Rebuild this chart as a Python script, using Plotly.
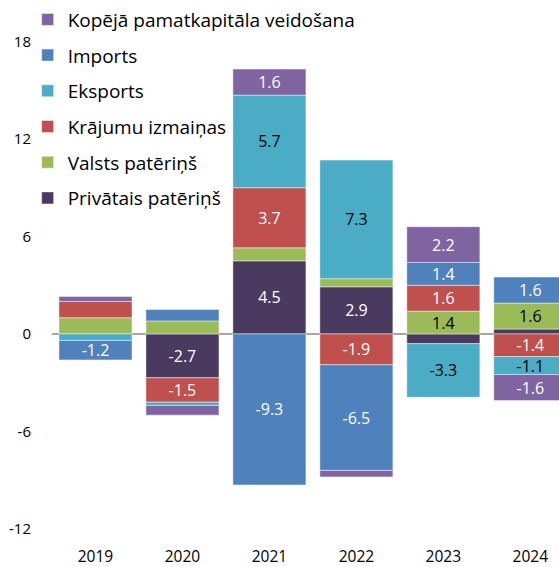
import plotly.graph_objects as go

years = ["2019", "2020", "2021", "2022", "2023", "2024"]

privatais = [0.0, -2.7, 4.5, 2.9, -0.6, 0.3]
valsts = [1.0, 0.8, 0.8, 0.5, 1.4, 1.6]
krajumu = [1.0, -1.5, 3.7, -1.9, 1.6, -1.4]
eksports = [-0.4, -0.2, 5.7, 7.3, -3.3, -1.1]
imports = [-1.2, 0.7, -9.3, -6.5, 1.4, 1.6]
kopeja = [0.3, -0.6, 1.6, -0.4, 2.2, -1.6]

series = [
    ("Privātais patēriņš", privatais, "#4B3A60", "white"),
    ("Valsts patēriņš", valsts, "#9BBB59", "black"),
    ("Krājumu izmaiņas", krajumu, "#C0504D", "white"),
    ("Eksports", eksports, "#4BACC6", "black"),
    ("Imports", imports, "#4F81BD", "white"),
    ("Kopējā pamatkapitāla veidošana", kopeja, "#8064A2", "white"),
]

FONT = "Open Sans"

fig = go.Figure()
n = len(series)
for i, (name, vals, color, tcolor) in enumerate(series):
    labels = [f"{v:.1f}" if abs(v) >= 1.1 else "" for v in vals]
    fig.add_trace(go.Bar(
        x=years, y=vals, name=name, legendgroup=name, legendrank=n - i,
        marker=dict(color=color, line=dict(color="rgba(255,255,255,0.45)", width=1)),
        text=labels, textposition="inside", insidetextanchor="middle",
        textangle=0, textfont=dict(color=tcolor, size=16, family=FONT),
        hoverinfo="skip",
    ))

fig.update_layout(
    barmode="relative",
    bargap=0.16,
    width=559, height=567,
    margin=dict(l=52, r=0, t=9, b=28),
    paper_bgcolor="white", plot_bgcolor="white",
    font=dict(family=FONT, size=15, color="black"),
    uniformtext=dict(minsize=16, mode="show"),
    legend=dict(
        x=-0.048, y=1.016, xanchor="left", yanchor="top",
        traceorder="grouped", tracegroupgap=8,
        font=dict(size=19, family=FONT, color="black"),
        bgcolor="rgba(0,0,0,0)",
    ),
    showlegend=True,
)
fig.update_xaxes(
    range=[-0.5, 5.33], showgrid=False, showline=False, ticks="",
    tickfont=dict(size=15.5), ticklabelstandoff=8,
)
fig.update_yaxes(
    range=[-12.5, 20], tickvals=[-12, -6, 0, 6, 12, 18],
    ticktext=["-12", "-6", "0", "6", "12", "18"],
    showgrid=False, showline=False, zeroline=True, zerolinecolor="#A6A6A6",
    zerolinewidth=1.5, tickfont=dict(size=15), ticklabelstandoff=20,
)

fig.write_html(
    "out.html",
    config={"displayModeBar": False, "staticPlot": True},
    post_script="document.body.style.margin='0';document.body.style.overflow='hidden';",
)
